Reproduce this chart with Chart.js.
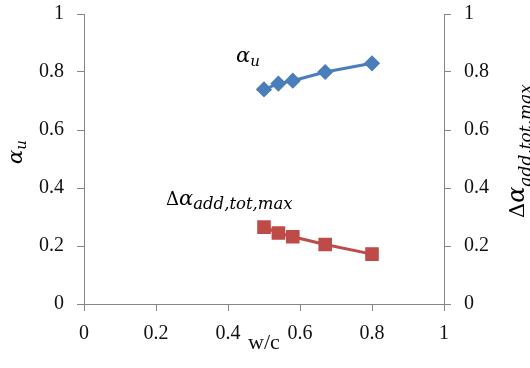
<!DOCTYPE html>
<html>
<head>
<meta charset="utf-8">
<script src="https://cdn.jsdelivr.net/npm/chart.js@4/dist/chart.umd.min.js"></script>
<style>
html,body{margin:0;padding:0;background:#fff;}
#wrap{width:530px;height:368px;position:relative;}
</style>
</head>
<body>
<div id="wrap"><canvas id="c" width="530" height="368"></canvas></div>
<script>
// ---- data ----
const wc = [0.5, 0.54, 0.58, 0.67, 0.8];
const alphaU = [0.74, 0.76, 0.77, 0.80, 0.83];
const dAlphaAddTotMax = [0.265, 0.245, 0.232, 0.205, 0.172];
const xTicks = [0, 0.2, 0.4, 0.6, 0.8, 1];
const yTicks = [0, 0.2, 0.4, 0.6, 0.8, 1];
const xTitle = 'w/c';

const pts = (xs, ys) => xs.map((x, i) => ({x: x, y: ys[i]}));

const AXIS = '#868686';
const TXT = '#111';
const SERIF = "'Liberation Serif', 'Times New Roman', serif";
const tickFont = {family: SERIF, size: 20};

function drawParts(ctx, parts) {
  let x = 0;
  parts.forEach(p => {
    ctx.font = (p.italic ? 'italic ' : '') + p.size + 'px "DejaVu Serif"';
    ctx.fillText(p.t, x, p.dy || 0);
    x += ctx.measureText(p.t).width + (p.gap || 0);
  });
}

const labelsPlugin = {
  id: 'mathLabels',
  afterDraw(chart) {
    const ctx = chart.ctx;
    const xs = chart.scales.x;
    ctx.save();
    ctx.fillStyle = '#000';
    ctx.textBaseline = 'alphabetic';
    ctx.textAlign = 'left';
    // alpha_u series label
    ctx.save();
    ctx.translate(236, 62);
    drawParts(ctx, [{t: 'α', italic: true, size: 21}, {t: 'u', italic: true, size: 15, dy: 4}]);
    ctx.restore();
    // delta alpha label
    ctx.save();
    ctx.translate(166, 205);
    drawParts(ctx, [{t: 'Δ', size: 18}, {t: 'α', italic: true, size: 21}, {t: 'add,tot,max', italic: true, size: 16.5, dy: 4}]);
    ctx.restore();
    // left axis title
    ctx.save();
    ctx.translate(22, 164);
    ctx.rotate(-Math.PI / 2);
    drawParts(ctx, [{t: 'α', italic: true, size: 21}, {t: 'u', italic: true, size: 15, dy: 4}]);
    ctx.restore();
    // right axis title
    ctx.save();
    ctx.translate(524, 218);
    ctx.rotate(-Math.PI / 2);
    drawParts(ctx, [{t: 'Δ', size: 21}, {t: 'α', italic: true, size: 24}, {t: 'add,tot,max', italic: true, size: 17, dy: 7}]);
    ctx.restore();
    // x title
    ctx.font = '22px ' + SERIF;
    ctx.fillStyle = TXT;
    ctx.textAlign = 'center';
    ctx.textBaseline = 'middle';
    ctx.fillText(xTitle, (xs.left + xs.right) / 2, 343);
    ctx.restore();
  }
};

function yAxis(pos, width) {
  return {
    type: 'linear', position: pos, min: 0, max: 1,
    afterBuildTicks: s => { s.ticks = yTicks.map(v => ({value: v})); },
    afterFit: s => { s.width = width; s.paddingTop = 0; s.paddingBottom = 0; },
    grid: {display: true, drawOnChartArea: false, drawTicks: true, tickLength: 7, color: AXIS, lineWidth: 1},
    border: {display: true, color: AXIS, width: 1},
    ticks: {color: TXT, font: tickFont, padding: 13, callback: v => String(v)}
  };
}

new Chart(document.getElementById('c'), {
  type: 'scatter',
  data: {
    datasets: [
      {
        label: 'αu', data: pts(wc, alphaU), yAxisID: 'y', showLine: true,
        borderColor: '#4A7EBB', backgroundColor: '#4A7EBB', borderWidth: 3,
        pointStyle: 'rectRot', pointRadius: 6, pointHoverRadius: 6
      },
      {
        label: 'Δα', data: pts(wc, dAlphaAddTotMax), yAxisID: 'y2', showLine: true,
        borderColor: '#BE4B48', backgroundColor: '#BE4B48', borderWidth: 3,
        pointStyle: 'rect', pointRadius: 7.5, pointHoverRadius: 7.5
      }
    ]
  },
  options: {
    responsive: false, animation: false,
    layout: {padding: {top: 14, left: 0, right: 0, bottom: 0}},
    plugins: {legend: {display: false}, tooltip: {enabled: false}},
    scales: {
      x: {
        type: 'linear', min: 0, max: 1,
        afterBuildTicks: s => { s.ticks = xTicks.map(v => ({value: v})); },
        afterFit: s => { s.height = 64; s.paddingLeft = 0; s.paddingRight = 0; },
        grid: {display: true, drawOnChartArea: false, drawTicks: true, tickLength: 7, color: AXIS},
        border: {display: true, color: AXIS, width: 1},
        ticks: {color: TXT, font: tickFont, padding: 11, maxRotation: 0, callback: v => String(v)}
      },
      y: yAxis('left', 84),
      y2: yAxis('right', 86)
    }
  },
  plugins: [labelsPlugin]
});
</script>
</body>
</html>
